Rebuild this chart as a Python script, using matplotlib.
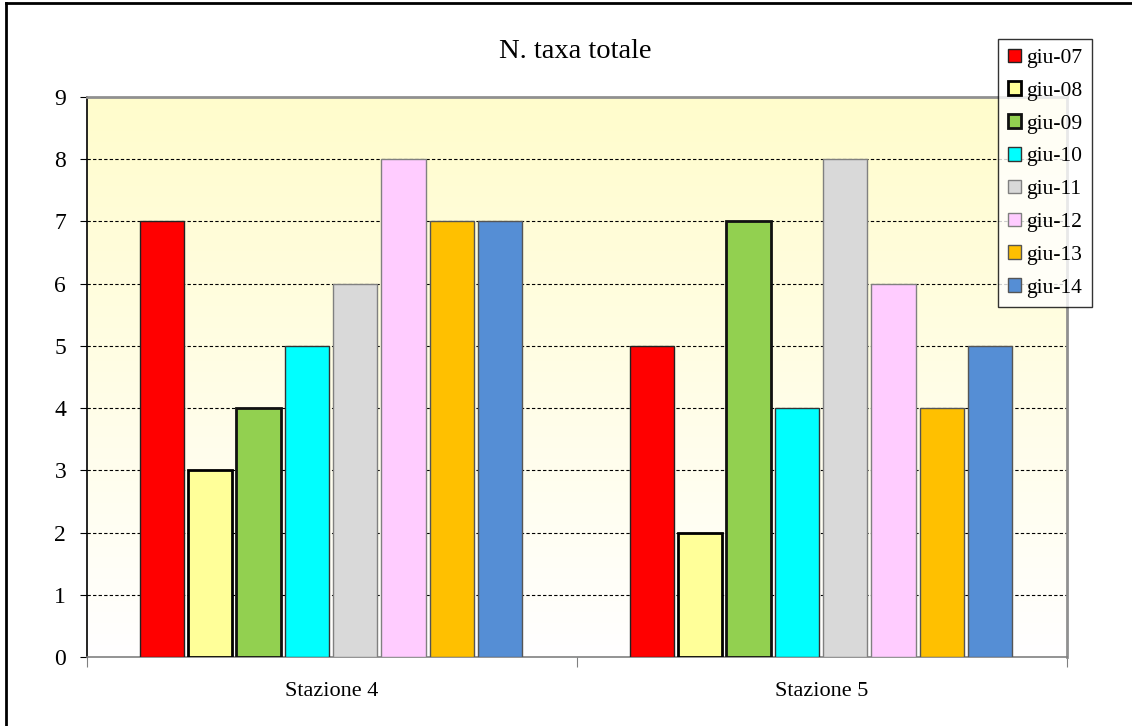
import numpy as np
import matplotlib.pyplot as plt
from matplotlib.lines import Line2D

stations = ['Stazione 4', 'Stazione 5']
years = ['giu-07', 'giu-08', 'giu-09', 'giu-10', 'giu-11', 'giu-12', 'giu-13', 'giu-14']
values = [
    [7, 5],  # giu-07
    [3, 2],  # giu-08
    [4, 7],  # giu-09
    [5, 4],  # giu-10
    [6, 8],  # giu-11
    [8, 6],  # giu-12
    [7, 4],  # giu-13
    [7, 5],  # giu-14
]

colors = ['#FF0000', '#FFFF99', '#92D050', '#00FFFF', '#D9D9D9', '#FFCCFF', '#FFC000', '#558ED5']
edges = ['#222222', '#000000', '#111111', '#333333', '#808080', '#808080', '#555555', '#555555']
lws = [1.0, 2.0, 2.0, 1.0, 1.0, 1.0, 1.0, 1.0]

plt.rcParams['font.family'] = ['Liberation Serif', 'DejaVu Serif']

fig = plt.figure(figsize=(11.32, 7.26), dpi=100)
ax = fig.add_axes([87 / 1132, 1 - 657 / 726, 980 / 1132, 560 / 726])

# gradient background: light yellow at the top fading to white
grad = np.linspace(0, 1, 256).reshape(-1, 1)
top = np.array([255, 252, 204]) / 255
bot = np.array([255, 255, 255]) / 255
img = bot + (top - bot) * grad[..., None]
ax.imshow(img, extent=[0, 2, 0, 9], origin='lower', aspect='auto', zorder=0)

step = 0.0986
width = 0.09
x = np.arange(len(stations)) + 0.5
for i, (yr, vals) in enumerate(zip(years, values)):
    off = (i - 3.5) * step - 0.002
    ax.bar(x + off, vals, width, color=colors[i], edgecolor=edges[i],
           linewidth=lws[i], label=yr, zorder=3)

ax.set_xlim(0, 2)
ax.set_ylim(0, 9)
ax.set_yticks(range(0, 10))
ax.tick_params(axis='y', labelsize=17, direction='out', length=5, pad=10)
ax.set_xticks([0, 1, 2], minor=False)
ax.set_xticklabels([])
ax.set_xticks(x, minor=True)
ax.set_xticklabels(stations, minor=True, fontsize=16)
ax.tick_params(axis='x', which='minor', length=0, pad=18)
ax.tick_params(axis='x', which='major', length=7, color='#808080')

for yv in range(1, 9):
    ax.axhline(yv, color='black', lw=0.8, ls=(0, (3, 2)), zorder=1)

ax.spines['left'].set_color('black')
ax.spines['left'].set_linewidth(1.2)
ax.spines['bottom'].set_color('#808080')
ax.spines['bottom'].set_linewidth(1.2)
ax.spines['top'].set_color('#909090')
ax.spines['top'].set_linewidth(2)
ax.spines['right'].set_color('#909090')
ax.spines['right'].set_linewidth(2)

fig.text(575 / 1132, 1 - 52 / 726, 'N. taxa totale', ha='center', va='center', fontsize=20.5)

leg = fig.legend(loc='upper left', bbox_to_anchor=(998 / 1132, 1 - 39 / 726),
                 fontsize=15.5, frameon=True, fancybox=False, edgecolor='black',
                 handlelength=0.6, handleheight=0.6, handletextpad=0.25,
                 labelspacing=0.62, borderpad=0.45, borderaxespad=0)
leg.get_frame().set_linewidth(1.0)

# outer chart frame (top and left edges visible)
fig.add_artist(Line2D([6 / 1132, 1], [1 - 3 / 726, 1 - 3 / 726], color='black', lw=2))
fig.add_artist(Line2D([6 / 1132, 6 / 1132], [0, 1 - 3 / 726], color='black', lw=2))

fig.savefig('out.png', dpi=100)
